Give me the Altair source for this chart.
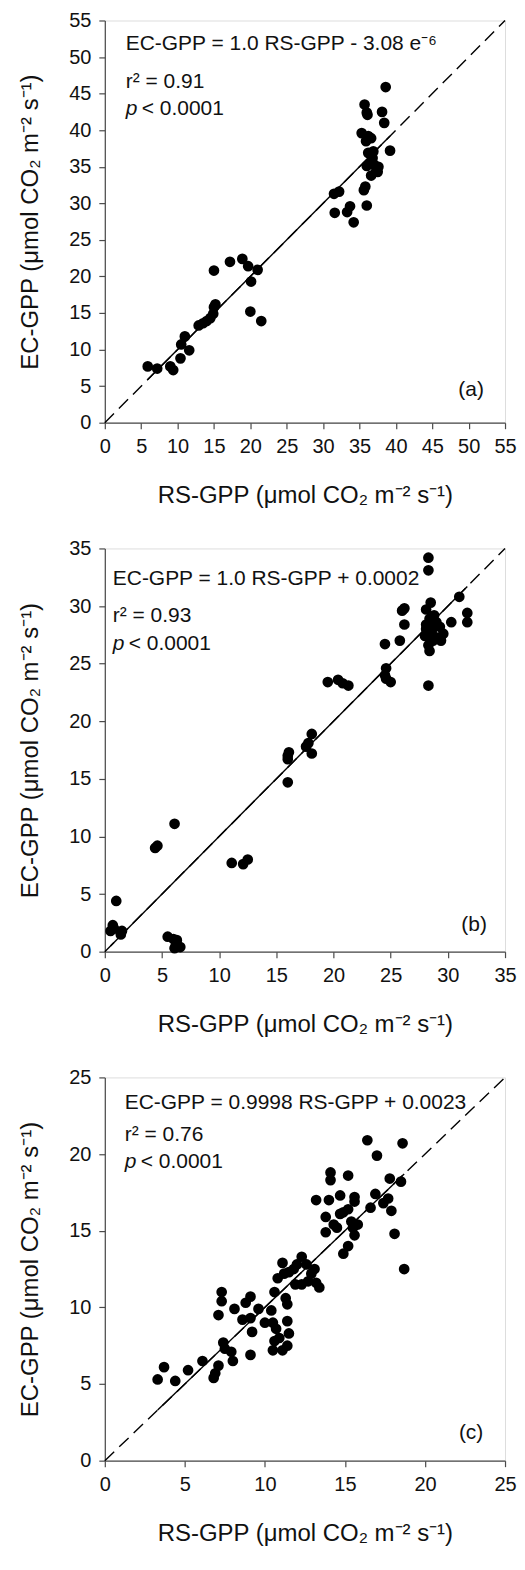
import altair as alt
import pandas as pd

FONT = "Liberation Sans"

# ---------------- data ----------------
rs_a = [5.9, 7.2, 9.0, 9.4, 10.4, 11.6, 10.5, 11.0, 12.9, 13.5, 14.0, 14.5, 14.9, 15.0, 15.2,
        15.0, 17.2, 18.9, 19.7, 21.0, 20.1, 20.0, 21.5,
        31.5, 32.2, 31.6, 33.3, 33.7, 34.2, 35.6, 35.8, 36.0, 35.3, 35.7, 36.0, 36.1, 38.1,
        38.4, 38.6, 36.2, 36.6, 35.9, 36.2, 36.9, 39.2, 36.0, 36.5, 37.0, 37.6, 37.3, 36.6,
        36.8, 37.5]
ec_a = [7.7, 7.4, 7.7, 7.2, 8.8, 9.9, 10.7, 11.8, 13.3, 13.6, 13.9, 14.3, 14.9, 15.8, 16.2,
        20.8, 22.0, 22.4, 21.4, 20.9, 19.3, 15.2, 13.9,
        31.3, 31.6, 28.7, 28.8, 29.6, 27.4, 31.8, 32.3, 29.7, 39.6, 43.5, 42.4, 42.1, 42.5,
        41.0, 45.9, 39.2, 38.9, 38.5, 36.9, 37.1, 37.2, 35.1, 35.5, 35.3, 35.0, 34.4, 33.8,
        36.2, 34.3]

rs_b = [0.5, 0.7, 0.8, 1.0, 1.4, 1.5, 4.4, 4.6, 6.1, 5.5, 6.0, 6.2, 6.3, 6.6, 6.1,
        11.1, 12.1, 12.5, 16.0, 16.1, 16.0, 16.0, 17.6, 17.8, 18.1, 18.1,
        19.5, 20.4, 20.8, 21.3, 24.5, 24.6, 24.5, 25.0, 24.6, 25.8, 26.0, 26.2, 26.2,
        28.3, 28.3, 28.3, 28.1, 28.5, 28.1, 28.4, 28.8, 29.0, 28.3, 28.6, 28.9, 29.3,
        29.6, 28.0, 28.3, 28.4, 28.7, 29.4, 28.1, 28.7, 30.3, 31.0, 31.7, 31.7]
ec_b = [1.8, 2.3, 2.0, 4.4, 1.5, 1.8, 9.0, 9.2, 11.1, 1.3, 1.1, 0.5, 1.0, 0.4, 0.3,
        7.7, 7.6, 8.0, 17.0, 17.3, 16.7, 14.7, 17.8, 18.1, 18.9, 17.2,
        23.4, 23.6, 23.3, 23.1, 26.7, 24.6, 24.0, 23.4, 23.7, 27.0, 29.6, 29.8, 28.4,
        34.2, 33.1, 23.1, 29.7, 30.3, 28.4, 28.9, 29.2, 28.6, 27.6, 27.9, 27.3, 28.2,
        27.6, 27.4, 26.6, 26.1, 27.0, 27.0, 28.0, 28.4, 28.6, 30.8, 29.4, 28.6]

rs_c = [3.3, 3.7, 4.4, 5.2, 6.1, 6.8, 6.9, 7.1, 7.1, 7.3, 7.3, 7.4, 7.5, 7.9, 8.0, 8.1,
        8.6, 8.8, 9.1, 9.1, 9.2, 9.1, 9.6, 10.0, 10.4, 10.5, 10.6, 10.5, 10.7, 10.9, 11.1,
        11.4, 11.5, 11.4, 11.4, 11.3, 10.6, 10.8, 11.1, 11.2, 11.5, 11.8, 12.0, 11.9, 12.3,
        12.3, 12.6, 12.9, 13.1, 13.2, 13.4, 12.7, 13.2, 13.8, 13.8, 14.0, 14.1, 14.1, 14.3,
        14.5, 14.7, 14.7, 14.9, 15.2, 15.2, 14.9, 15.2, 15.4, 15.6, 15.6, 15.6, 15.8, 15.5,
        16.6, 16.4, 17.0, 16.9, 17.4, 17.7, 17.9, 17.8, 18.5, 18.1, 18.6, 18.7]
ec_c = [5.3, 6.1, 5.2, 5.9, 6.5, 5.4, 5.7, 6.2, 9.5, 11.0, 10.4, 7.7, 7.3, 7.1, 6.5, 9.9,
        9.2, 10.3, 10.7, 6.9, 8.4, 9.3, 9.9, 9.0, 9.8, 9.0, 7.8, 7.2, 8.6, 8.0, 7.2,
        7.5, 8.3, 9.1, 10.2, 10.6, 11.0, 11.9, 12.9, 12.2, 12.3, 12.5, 12.8, 11.5, 11.5,
        13.3, 12.8, 12.2, 12.5, 11.6, 11.3, 11.7, 17.0, 14.9, 15.9, 17.0, 18.8, 18.3, 15.4,
        15.2, 17.3, 16.1, 16.2, 16.4, 18.6, 13.5, 14.0, 15.6, 14.7, 17.2, 16.9, 15.4, 15.2,
        16.5, 20.9, 19.9, 17.4, 16.8, 17.1, 16.3, 18.4, 18.2, 14.8, 20.7, 12.5]

axis_max = [55, 35, 25]
slopes = [1.0, 1.0, 0.9998]
intercepts = [-3.08e-6, 0.0002, 0.0023]
equations = ["EC-GPP = 1.0 RS-GPP - 3.08 e\u207b\u2076",
             "EC-GPP = 1.0 RS-GPP + 0.0002",
             "EC-GPP = 0.9998 RS-GPP + 0.0023"]
r2_texts = ["r\u00b2 = 0.91", "r\u00b2 = 0.93", "r\u00b2 = 0.76"]
p_texts = ["< 0.0001", "< 0.0001", "< 0.0001"]
tags = ["(a)", "(b)", "(c)"]

X_TITLE = "RS-GPP (\u03bcmol CO\u2082  m\u207b\u00b2 s\u207b\u00b9)"
Y_TITLE = "EC-GPP (\u03bcmol CO\u2082  m\u207b\u00b2 s\u207b\u00b9)"

# ---------------- layout / style ----------------
W = 401
heights = [403, 404, 384]
text_left = [21, 8, 20]
text_ys = [(24, 62, 89), (31, 68, 96), (26, 58, 85)]
tag_pos = [(367, 370), (370, 377), (367, 356)]
AX = "#4a4a4a"


def panel(i, xs, ys):
    m = axis_max[i]
    h = heights[i]
    ticks = list(range(0, m + 1, 5))
    xsc = alt.Scale(domain=[0, m], nice=False, zero=True)
    ysc = alt.Scale(domain=[0, m], nice=False, zero=True)
    xax = alt.Axis(values=ticks, title=X_TITLE, grid=False, tickSize=6, tickWidth=1.2,
                   tickColor=AX, domainColor=AX, domainWidth=1.2, labelFontSize=20,
                   labelFont=FONT, labelColor="#111", labelPadding=8, labelFlush=False,
                   labelOverlap=False, titleFontSize=24, titleFont=FONT, titleFontWeight="normal",
                   titleColor="#111", titleY=73, titleBaseline="middle", titleX=W / 2)
    yax = alt.Axis(values=ticks, title=Y_TITLE, grid=False, tickSize=6, tickWidth=1.2,
                   tickColor=AX, domainColor=AX, domainWidth=1.2, labelFontSize=20,
                   labelFont=FONT, labelColor="#111", labelPadding=8, labelOverlap=False,
                   titleFontSize=24, titleFont=FONT, titleFontWeight="normal", titleColor="#111",
                   titleX=-74, titleY=h / 2, titleAngle=270, titleAlign="center",
                   titleBaseline="middle")
    X = alt.X("rs:Q", scale=xsc, axis=xax)
    Y = alt.Y("ec:Q", scale=ysc, axis=yax)

    pts = pd.DataFrame({"rs": xs, "ec": ys})
    one = pd.DataFrame({"rs": [0, m], "ec": [0, m]})
    fx = [min(xs), max(xs)]
    fit = pd.DataFrame({"rs": fx, "ec": [slopes[i] * v + intercepts[i] for v in fx]})

    dashed = alt.Chart(one).mark_line(color="black", strokeWidth=1.4,
                                      strokeDash=[13, 7]).encode(x=X, y=Y)
    solid = alt.Chart(fit).mark_line(color="black", strokeWidth=1.4).encode(x=X, y=Y)
    dots = alt.Chart(pts).mark_circle(color="black", opacity=1, size=115).encode(x=X, y=Y)

    tx = text_left[i]
    y1, y2, y3 = text_ys[i]

    def txt(s, x, y, style="normal", align="left"):
        return alt.Chart(pd.DataFrame({"t": [s]})).mark_text(
            font=FONT, fontSize=21, fontStyle=style, color="#111", align=align,
            baseline="middle").encode(text="t:N", x=alt.value(x), y=alt.value(y))

    layers = [dashed, solid, dots,
              txt(equations[i], tx, y1),
              txt(r2_texts[i], tx, y2),
              txt("p", tx, y3, style="italic"),
              txt(p_texts[i], tx + 16, y3),
              txt(tags[i], tag_pos[i][0], tag_pos[i][1], align="center")]
    return alt.layer(*layers).properties(width=W, height=h)


chart = alt.vconcat(
    panel(0, rs_a, ec_a),
    panel(1, rs_b, ec_b),
    panel(2, rs_c, ec_c),
    spacing=29,
).properties(
    padding={"left": 10, "top": 0, "right": 0, "bottom": 0}
).configure_view(
    stroke=AX, strokeWidth=1.2
).configure(font=FONT, background="white")

chart.save("out.html", embed_options={"renderer": "svg", "actions": False})
